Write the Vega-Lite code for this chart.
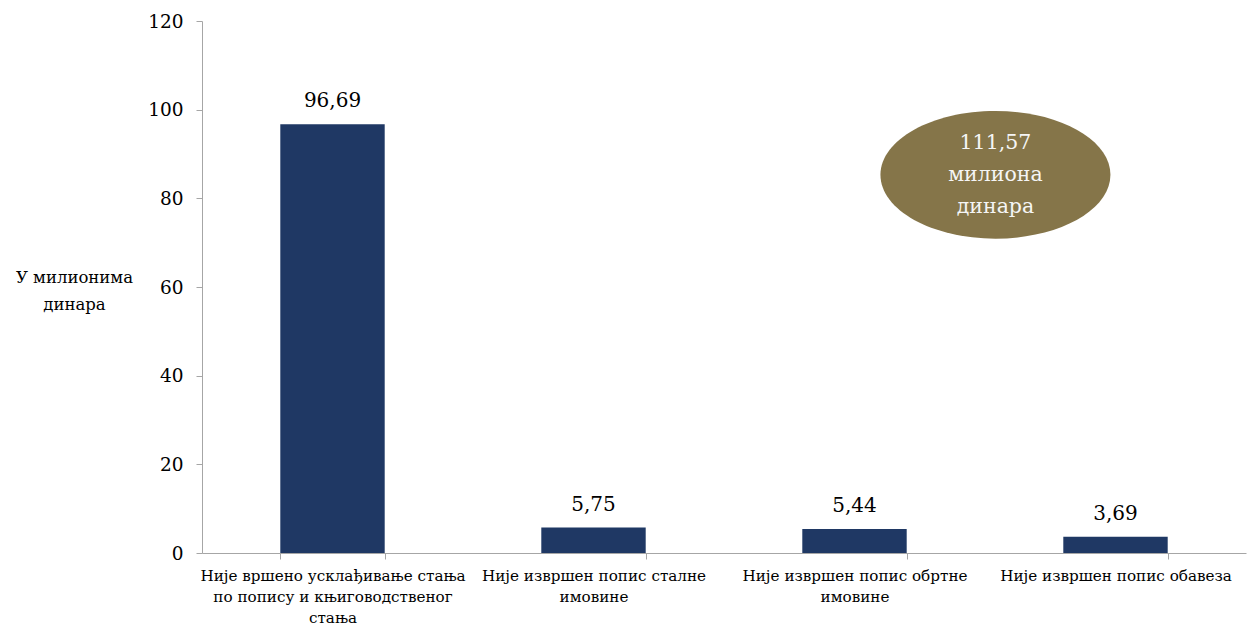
{
  "$schema": "https://vega.github.io/schema/vega-lite/v6.json",
  "width": 1044,
  "height": 532,
  "autosize": {"type": "none"},
  "padding": {"left": 202, "top": 21, "right": 2, "bottom": 75},
  "background": "white",
  "config": {"view": {"stroke": null}, "font": "DejaVu Serif"},
  "data": {"values": [
    {"kategorija": "Није вршено усклађивање стања по попису и књиговодственог стања", "iznos": 96.69, "oznaka": "96,69"},
    {"kategorija": "Није извршен попис сталне имовине", "iznos": 5.75, "oznaka": "5,75"},
    {"kategorija": "Није извршен попис обртне имовине", "iznos": 5.44, "oznaka": "5,44"},
    {"kategorija": "Није извршен попис обавеза", "iznos": 3.69, "oznaka": "3,69"}
  ]},
  "encoding": {
    "x": {
      "field": "kategorija", "type": "nominal", "sort": null,
      "scale": {"paddingInner": 0.6, "paddingOuter": 0.3},
      "axis": {
        "title": null, "labelAngle": 0, "tickBand": "extent",
        "domainColor": "#a6a6a6", "tickColor": "#a6a6a6", "tickSize": 6,
        "labelFont": "DejaVu Serif", "labelFontSize": 15.2, "labelColor": "#000000",
        "labelPadding": 9, "labelLineHeight": 21, "labelLimit": 400,
        "labelExpr": "datum.value == 'Није вршено усклађивање стања по попису и књиговодственог стања' ? ['Није вршено усклађивање стања', 'по попису и књиговодственог', 'стања'] : datum.value == 'Није извршен попис сталне имовине' ? ['Није извршен попис сталне', 'имовине'] : datum.value == 'Није извршен попис обртне имовине' ? ['Није извршен попис обртне', 'имовине'] : datum.value"
      }
    },
    "y": {
      "field": "iznos", "type": "quantitative",
      "scale": {"domain": [0, 120], "nice": false},
      "axis": {
        "values": [0, 20, 40, 60, 80, 100, 120], "grid": false,
        "domainColor": "#a6a6a6", "tickColor": "#a6a6a6", "tickSize": 6,
        "labelFont": "DejaVu Serif", "labelFontSize": 18.5, "labelColor": "#000000",
        "labelPadding": 13,
        "title": ["У милионима", "динара"], "titleAngle": 0,
        "titleFont": "DejaVu Serif", "titleFontSize": 16.5, "titleFontWeight": "normal",
        "titleColor": "#000000", "titleAlign": "center", "titleBaseline": "middle",
        "titleLineHeight": 27, "titleX": -128, "titleY": 256
      }
    }
  },
  "layer": [
    {"mark": {"type": "bar", "color": "#1f3864"}},
    {
      "mark": {"type": "text", "dy": -13, "fontSize": 20, "font": "DejaVu Serif", "color": "#000000", "baseline": "bottom"},
      "encoding": {"text": {"field": "oznaka"}}
    },
    {
      "data": {"values": [{"kategorija": "Није извршен попис обавеза", "vrednost": 85.3, "tekst": ["111,57", "милиона", "динара"]}]},
      "mark": {"type": "point", "shape": "M-1,0A1,0.555,0,1,0,1,0A1,0.555,0,1,0,-1,0Z", "size": 52900, "filled": true, "color": "#857549", "opacity": 1},
      "encoding": {
        "x": {"field": "kategorija", "type": "nominal", "sort": null, "bandPosition": -0.65},
        "y": {"field": "vrednost", "type": "quantitative"}
      }
    },
    {
      "data": {"values": [{"kategorija": "Није извршен попис обавеза", "vrednost": 85.3, "tekst": ["111,57", "милиона", "динара"]}]},
      "mark": {"type": "text", "fontSize": 20.5, "font": "DejaVu Serif", "color": "#f5f5f5", "lineHeight": 32, "baseline": "middle", "dy": -32},
      "encoding": {
        "x": {"field": "kategorija", "type": "nominal", "sort": null, "bandPosition": -0.65},
        "y": {"field": "vrednost", "type": "quantitative"},
        "text": {"field": "tekst"}
      }
    }
  ]
}
